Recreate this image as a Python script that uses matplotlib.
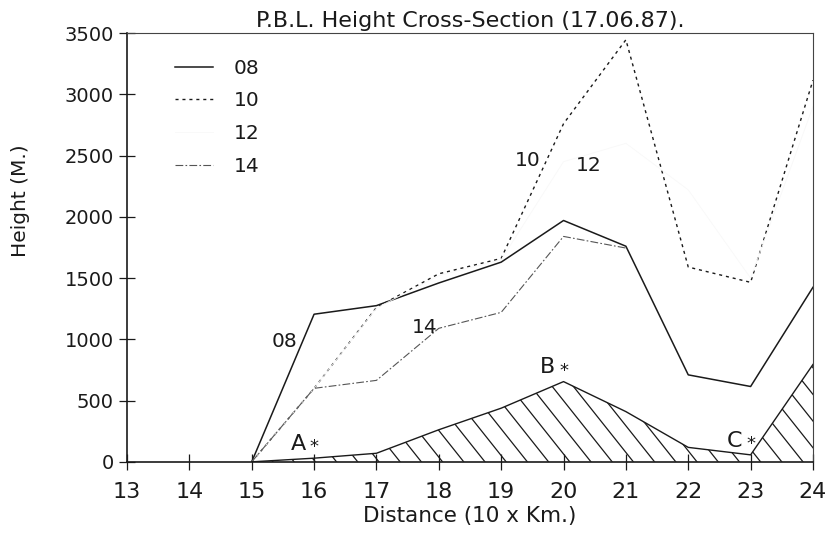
import numpy as np
import matplotlib
matplotlib.use('Agg')
import matplotlib.pyplot as plt

plt.rcParams['font.family'] = ['DejaVu Sans']
plt.rcParams['font.size'] = 14

# ── data ──
distance = [15, 16, 17, 18, 19, 20, 21, 22, 23, 24]
pbl_08 = [0, 1205, 1275, 1460, 1630, 1970, 1760, 710, 615, 1425]
pbl_10 = [0, 600, 1260, 1535, 1660, 2760, 3445, 1590, 1465, 3115]
pbl_12 = [0, 600, 1255, 1520, 1650, 2450, 2600, 2220, 1500, 2900]
pbl_14 = [0, 600, 665, 1090, 1220, 1840, 1745]
terrain = [0, 30, 70, 262, 438, 655, 410, 118, 57, 795]

annot = [('A', 16, 30), ('B', 20, 655), ('C', 23, 57)]
curve_tags = [('08', 15.52, 980), ('10', 19.43, 2460), ('12', 20.4, 2420),
              ('14', 17.78, 1100)]
x_ticks = list(range(13, 25))
y_ticks = list(range(0, 3501, 500))

INK = '#1a1a1a'

fig = plt.figure(figsize=(8.3, 5.33), dpi=100)
ax = fig.add_axes([0.153, 0.1335, 0.8265, 0.8045])

ax.plot(distance, pbl_08, color=INK, lw=1.1, label='08')
ax.plot(distance, pbl_10, color=INK, lw=1.0, ls=(0, (2.2, 2.8)), label='10')
ax.plot(distance, pbl_12, color='#f8f8f8', lw=0.6, label='12')
ax.plot(distance[:len(pbl_14)], pbl_14, color='#555555', lw=0.8,
        ls=(0, (7, 2, 1.5, 2)), label='14')

# ── terrain with diagonal hatching ──
ax.plot(distance, terrain, color=INK, lw=1.0)
poly = ax.fill_between(distance, 0, terrain, facecolor='none', lw=0)
clip = poly.get_paths()[0]
slope = 640.0                       # m per distance unit (hatch steepness)
for x0 in np.arange(15.0, 26.5, 0.34):
    ln, = ax.plot([x0 - 1.3, x0], [1.3 * slope, 0], color=INK, lw=0.9)
    ln.set_clip_path(clip, transform=ax.transData)

for lab, xv, yv in annot:
    ax.text(xv - 0.13, yv + 35, lab, ha='right', va='bottom', fontsize=16,
            color=INK)
    ax.text(xv, yv + 90, '*', ha='center', va='center', fontsize=13,
            color=INK)
for lab, xv, yv in curve_tags:
    ax.text(xv, yv, lab, ha='center', va='center', fontsize=14.5, color=INK)

ax.set_xlim(13, 24)
ax.set_ylim(0, 3500)
ax.set_xticks(x_ticks)
ax.set_yticks(y_ticks)
ax.tick_params(direction='inout', length=11, width=0.9, colors=INK, pad=4)
ax.tick_params(axis='x', labelsize=16, pad=9)
ax.tick_params(axis='y', labelsize=14)
for side in ['left', 'bottom']:
    ax.spines[side].set_linewidth(1.2)
    ax.spines[side].set_color(INK)
for side in ['top', 'right']:
    ax.spines[side].set_linewidth(0.8)
    ax.spines[side].set_color('#444444')

ax.set_xlabel('Distance (10 x Km.)', fontsize=15.5, color=INK, labelpad=3)
ax.set_ylabel('Height (M.)', fontsize=14.5, color=INK)
ax.yaxis.set_label_coords(-0.141, 0.61)
ax.set_title('P.B.L. Height Cross-Section (17.06.87).', fontsize=16,
             color=INK, pad=4)

leg = ax.legend(loc='upper left', bbox_to_anchor=(0.07, 0.94), frameon=False,
                borderaxespad=0, borderpad=0,
                handlelength=1.9, handletextpad=1.0, labelspacing=0.68,
                fontsize=14.5)
for t in leg.get_texts():
    t.set_color(INK)

fig.savefig('out.png', dpi=100)
